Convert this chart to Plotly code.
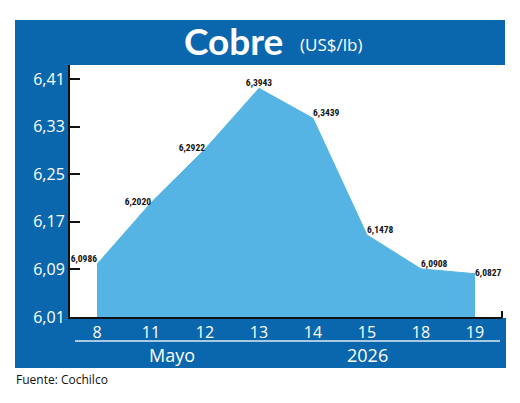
import plotly.graph_objects as go

days = ["8", "11", "12", "13", "14", "15", "18", "19"]
prices = [6.0986, 6.2020, 6.2922, 6.3943, 6.3439, 6.1478, 6.0908, 6.0827]
label_pos = ["top left", "middle left", "middle left", "top center",
             "top right", "top right", "top right", "middle right"]
y_ticks = [6.01, 6.09, 6.17, 6.25, 6.33, 6.41]
month_label = "Mayo"
year_label = "2026"
title = "Cobre"
unit = "(US$/lb)"
source = "Fuente: Cochilco"

OFF = 8  # default page body margin
W, H = 520 - OFF, 403 - OFF
L, R, T, B = 70, 502, 65, 317
DARK = "#0B67AD"
LIGHT = "#55B4E3"


def px(x):
    return (x - L) / (R - L)


def py(y):
    return (B - y) / (B - T)


fig = go.Figure()
fig.add_trace(go.Scatter(
    x=days, y=prices, mode="lines+text", fill="tozeroy",
    fillcolor=LIGHT, line=dict(color=LIGHT, width=1),
    text=[f"{v:.4f}".replace(".", ",") for v in prices],
    textposition=label_pos,
    textfont=dict(family="Roboto Condensed, Open Sans Condensed, sans-serif",
                  size=9.5, color="#111111", weight="bold"),
    hoverinfo="skip", cliponaxis=False,
))

shapes = [
    dict(type="rect", xref="paper", yref="paper", x0=px(15), x1=px(505),
         y0=py(20), y1=py(65), fillcolor=DARK, line_width=0, layer="below"),
    dict(type="rect", xref="paper", yref="paper", x0=px(15), x1=px(70),
         y0=py(20), y1=py(368), fillcolor=DARK, line_width=0, layer="below"),
    dict(type="rect", xref="paper", yref="paper", x0=px(15), x1=px(506),
         y0=py(318), y1=py(368), fillcolor=DARK, line_width=0, layer="below"),
    dict(type="line", xref="paper", yref="paper", x0=px(75), x1=px(500),
         y0=py(341), y1=py(341), line=dict(color="#DDEBF5", width=1.5)),
    dict(type="line", xref="paper", yref="paper", x0=px(502), x1=px(502),
         y0=py(318), y1=py(311), line=dict(color="#111111", width=2)),
]

annotations = [
    dict(text=f"<b>{title}</b>", xref="paper", yref="paper",
         x=px(233), y=py(41), xanchor="center", yanchor="middle",
         showarrow=False, font=dict(family="Lato, sans-serif", size=37, color="white")),
    dict(text=unit, xref="paper", yref="paper",
         x=px(331), y=py(44), xanchor="center", yanchor="middle",
         showarrow=False, font=dict(family="Open Sans, sans-serif", size=17, color="white")),
    dict(text=month_label, xref="paper", yref="paper",
         x=px(172), y=py(355), xanchor="center", yanchor="middle",
         showarrow=False, font=dict(family="Open Sans, sans-serif", size=18, color="white")),
    dict(text=year_label, xref="paper", yref="paper",
         x=px(367), y=py(355), xanchor="center", yanchor="middle",
         showarrow=False, font=dict(family="Open Sans, sans-serif", size=18, color="white")),
    dict(text=source, xref="paper", yref="paper",
         x=px(14), y=py(379), xanchor="left", yanchor="middle",
         showarrow=False, font=dict(family="Open Sans, sans-serif", size=12, color="#111111")),
]

fig.update_layout(
    width=W, height=H,
    margin=dict(l=L - OFF, r=W - (R - OFF), t=T - OFF, b=H - (B - OFF), pad=0),
    paper_bgcolor="white", plot_bgcolor="white",
    showlegend=False, separators=", ",
    shapes=shapes, annotations=annotations,
    xaxis=dict(type="category", range=[-0.5, 7.5], showgrid=False,
               showline=True, linecolor="#111111", linewidth=2,
               ticks="", tickfont=dict(family="Open Sans, sans-serif", size=16, color="white"),
               zeroline=False, fixedrange=True),
    yaxis=dict(range=[6.01, 6.01 + (B - T) / 595], tickvals=y_ticks,
               tickformat=".2f", showgrid=False, zeroline=False,
               showline=True, linecolor="#111111", linewidth=2,
               ticks="inside", ticklen=10, tickwidth=2, tickcolor="#111111",
               tickfont=dict(family="Open Sans, sans-serif", size=16, color="white"),
               fixedrange=True),
)

fig.write_html("out.html")
